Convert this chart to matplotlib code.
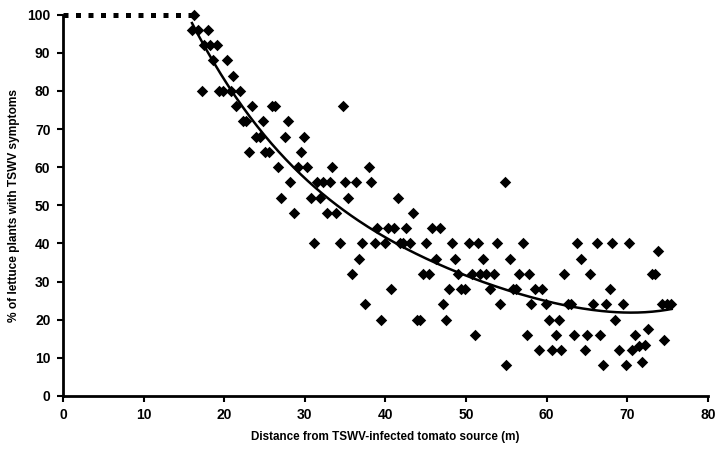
import numpy as np
import matplotlib
matplotlib.use('Agg')
import matplotlib.pyplot as plt

plt.rcParams['font.family'] = ['Liberation Sans', 'DejaVu Sans']
plt.rcParams['font.weight'] = 'bold'
NARROW = ['Liberation Sans Narrow', 'Liberation Sans', 'DejaVu Sans']

# observed plots: distance (m) vs % infected
distance = [16.3,
            16.0, 16.8, 18.0,
            17.5, 18.2, 19.1,
            18.6, 20.4,
            21.1,
            17.2, 19.4, 19.9, 20.8, 21.9,
            21.5, 23.5, 25.9, 26.3, 34.7,
            22.3, 22.7, 24.8, 27.9,
            24.0, 24.4, 27.5, 29.9,
            23.1, 25.1, 25.5, 29.5,
            26.7, 29.1, 30.3, 33.4, 38.0,
            28.2, 31.5, 32.2, 33.1, 35.0, 36.3, 38.2, 54.8,
            27.1, 30.7, 31.9, 35.4, 41.5,
            28.7, 32.7, 33.9, 43.4,
            39.0, 40.3, 41.1, 42.6, 45.8, 46.8,
            31.1, 34.3, 37.1, 38.7, 39.9, 41.8, 42.2, 43.0, 45.0, 48.2, 50.3, 51.5, 53.8, 57.0, 63.8, 66.2, 68.1, 70.2,
            73.8,
            36.7, 46.3, 48.6, 52.1, 55.4, 64.2,
            35.8, 44.7, 45.4, 49.0, 50.7, 51.7, 52.5, 53.4, 56.6, 57.8, 62.2, 65.4, 73.0, 73.4,
            40.7, 47.9, 49.4, 49.9, 53.0, 55.8, 56.2, 58.5, 59.4, 67.8,
            37.5, 47.1, 54.2, 58.1, 59.9, 62.6, 63.0, 65.8, 67.4, 69.4, 74.3, 74.9, 75.4,
            39.4, 43.9, 44.3, 47.5, 60.3, 61.5, 68.5,
            72.6,
            51.1, 57.5, 61.1, 63.4, 65.0, 66.6, 71.0,
            74.6,
            72.2, 71.4,
            59.0, 60.6, 61.8, 64.7, 69.0, 70.6,
            71.8,
            55.0, 67.0, 69.8]
pct = ([100] + [96]*3 + [92]*3 + [88]*2 + [84] + [80]*5 + [76]*5 + [72]*4 + [68]*4 + [64]*4
       + [60]*5 + [56]*8 + [52]*5 + [48]*4 + [44]*6 + [40]*18 + [38] + [36]*6 + [32]*14
       + [28]*10 + [24]*13 + [20]*7 + [17.6] + [16]*7 + [14.6] + [13.4, 13] + [12]*6
       + [8.9] + [8]*3)

# area next to the source, all plants infected
near_x = [0, 16.3]
near_y = [100, 100]

fig = plt.figure(figsize=(7.2, 4.58), dpi=100)
ax = fig.add_axes([0.0875, 0.1354, 0.8958, 0.8325])

ax.plot(near_x, near_y, color='black', lw=3.6, linestyle=(0, (1, 1.5)),
        solid_capstyle='butt', dash_capstyle='butt', clip_on=False)
ax.scatter(distance, pct, marker='D', s=34, color='black', zorder=3, linewidths=0, clip_on=False)

# polynomial trendline
coef = np.polyfit(distance, pct, 4)
xt = np.linspace(16, 75.5, 200)
ax.plot(xt, np.polyval(coef, xt), color='black', lw=1.8)

ax.set_xlim(0, 80)
ax.set_ylim(0, 100)
ax.set_xticks(range(0, 81, 10))
ax.set_yticks(range(0, 101, 10))
for s in ['top', 'right']:
    ax.spines[s].set_visible(False)
for s in ['left', 'bottom']:
    ax.spines[s].set_linewidth(2)
ax.tick_params(direction='out', length=4, width=1.5, pad=5)
for lab in ax.get_xticklabels() + ax.get_yticklabels():
    lab.set_fontweight('bold')
    lab.set_family(NARROW)
    lab.set_fontsize(10)
ax.set_xlabel('Distance from TSWV-infected tomato source (m)', fontsize=8.4,
              fontweight='bold', family=NARROW)
ax.set_ylabel('% of lettuce plants with TSWV symptoms', fontsize=8.6,
              fontweight='bold')
ax.xaxis.set_label_coords(0.5, -0.092)
ax.yaxis.set_label_coords(-0.066, 0.5)

fig.savefig('out.png', dpi=100)
